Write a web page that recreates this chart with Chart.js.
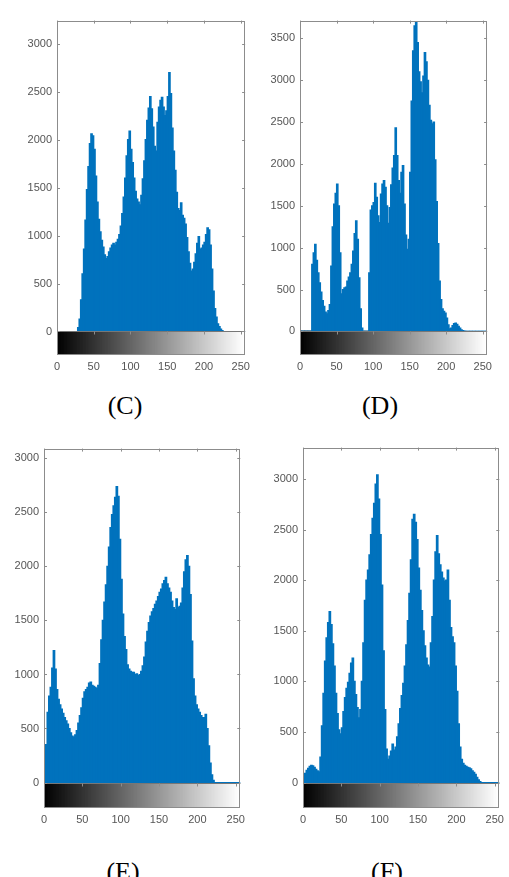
<!DOCTYPE html>
<html>
<head>
<meta charset="utf-8">
<script src="https://cdn.jsdelivr.net/npm/chart.js@4.4.1/dist/chart.umd.min.js"></script>
<style>
  html, body { margin: 0; padding: 0; background: #ffffff; }
  #page { position: relative; width: 509px; height: 877px; overflow: hidden; background: #fff; }
  canvas { position: absolute; }
  .cap { position: absolute; width: 100px; text-align: center; font-family: "Liberation Serif", "Times New Roman", serif; font-size: 26px; line-height: 26px; color: #000; }
</style>
</head>
<body>
<div id="page">
  <canvas id="cC"></canvas>
  <canvas id="cD"></canvas>
  <canvas id="cE"></canvas>
  <canvas id="cF"></canvas>
  <div class="cap" style="left:75px; top:393px;">(C)</div>
  <div class="cap" style="left:330px; top:393px;">(D)</div>
  <div class="cap" style="left:73px; top:859px;">(E)</div>
  <div class="cap" style="left:337px; top:859px;">(F)</div>
</div>
<script>
// ---- data: bin centres (each bin covers two grey levels) ----
const binCentres = Array.from({length: 128}, (_, i) => 2 * i + 1);
const xTickValues = [0, 50, 100, 150, 200, 250];

const histC = [
  0,0,0,0,0,0,0,0,
  0,0,0,0,0,0,40,130,
  330,600,860,1160,1480,1720,1960,2060,
  2040,1900,1620,1350,1170,1040,950,880,
  800,760,780,830,870,900,920,900,
  930,960,1010,1100,1230,1400,1600,1830,
  2000,2090,1900,1760,1600,1460,1380,1350,
  1320,1420,1590,1780,2000,2200,2330,2450,
  2320,2130,1930,1880,2180,2340,2410,2440,
  2340,2250,2300,2450,2700,2480,2120,1880,
  1680,1450,1280,1260,1340,1210,1180,1120,
  980,830,710,630,650,720,810,920,
  990,860,870,900,930,1010,1080,1060,
  900,650,420,240,150,80,50,25,
  10,0,0,0,0,0,0,0,
  0,0,0,0,0,0,0,0
];
const histD = [
  0,0,0,0,0,0,0,0,
  800,940,1040,850,700,580,470,370,
  300,230,210,250,320,780,1250,1520,
  1650,1760,1500,940,450,500,520,530,
  600,650,700,800,960,1170,1320,1100,
  640,270,40,0,0,0,0,700,
  1450,1500,1540,1770,1600,1380,1300,1640,
  1760,1800,1720,1500,1290,1480,1750,1950,
  2100,2430,2100,1800,1650,1900,1980,1520,
  1150,980,1100,1900,2750,3350,3650,3690,
  3450,3100,2980,2850,3050,3330,3220,3000,
  2700,2520,2480,2500,2050,1550,1050,600,
  380,270,240,220,160,80,30,40,
  70,95,100,85,60,40,20,10,
  5,0,0,0,0,0,0,0,
  0,0,0,0,0,0,0,0
];
const histE = [
  90,350,650,800,880,1060,1220,1050,
  860,770,720,680,640,600,570,540,
  500,460,430,420,440,480,550,620,
  690,780,840,860,880,920,930,900,
  890,880,870,900,1100,1320,1500,1670,
  1830,2000,2180,2360,2480,2560,2640,2740,
  2650,2250,1880,1560,1350,1230,1090,1050,
  1030,1020,1020,1000,1005,990,1000,1030,
  1080,1160,1300,1400,1480,1540,1580,1610,
  1650,1680,1720,1760,1790,1840,1870,1900,
  1840,1800,1760,1680,1620,1600,1700,1620,
  1630,1660,1800,1950,2060,2100,2000,1740,
  1310,960,800,720,680,650,620,600,
  600,630,500,340,180,70,20,0,
  0,0,0,0,0,0,0,0,
  0,0,0,0,0,0,0,0
];
const histF = [
  40,90,120,140,160,170,165,150,
  130,115,105,250,560,880,1200,1430,
  1580,1690,1560,1370,1150,880,680,520,
  480,540,700,840,930,990,1080,1180,
  1230,1000,870,740,640,720,1000,1380,
  1800,2000,2100,2250,2450,2610,2760,2950,
  3040,2800,2450,1950,1300,720,330,230,
  260,310,380,320,350,450,580,730,
  860,980,1150,1360,1600,1870,2200,2600,
  2650,2570,2400,2120,1900,1700,1500,1350,
  1230,1160,1140,1380,1640,2000,2280,2440,
  2260,2150,2080,2020,1990,2000,2100,1800,
  1530,1440,1380,1150,900,580,350,230,
  190,170,160,150,145,135,115,100,
  80,50,25,10,0,0,0,0,
  0,0,0,0,0,0,0,0
];
const yTicksC = [0, 500, 1000, 1500, 2000, 2500, 3000];
const yTicksD = [0, 500, 1000, 1500, 2000, 2500, 3000, 3500];
const yTicksE = [0, 500, 1000, 1500, 2000, 2500, 3000];
const yTicksF = [0, 500, 1000, 1500, 2000, 2500, 3000];

// ---- layout / style ----
const BAR_BLUE = '#0072BD';
const AXIS_GREY = '#8c8c8c';
const LABEL_GREY = '#555555';
const Y_AXIS_W = 45, X_AXIS_H = 22, PAD_T = 5, PAD_R = 5;

const boxPlugin = {
  id: 'matlabBox',
  afterDatasetsDraw(chart, args, opts) {
    const ctx = chart.ctx, a = chart.chartArea;
    const xs = chart.scales.x, ys = chart.scales.y;
    ctx.save();
    ctx.strokeStyle = '#777777';
    ctx.lineWidth = 1;
    const y0 = Math.round(ys.getPixelForValue(0)) + 0.5;
    ctx.beginPath();
    ctx.moveTo(a.left, y0); ctx.lineTo(a.right, y0);
    ctx.stroke();
    ctx.strokeStyle = AXIS_GREY;
    ctx.strokeRect(Math.round(a.left) + 0.5, Math.round(a.top) + 0.5,
                   Math.round(a.right - a.left) - 1, Math.round(a.bottom - a.top) - 1);
    ctx.beginPath();
    for (const v of opts.yTicks) {
      const py = Math.round(ys.getPixelForValue(v)) + 0.5;
      ctx.moveTo(a.left, py); ctx.lineTo(a.left + 3, py);
      ctx.moveTo(a.right, py); ctx.lineTo(a.right - 3, py);
    }
    for (const v of xTickValues) {
      const px = Math.round(xs.getPixelForValue(v)) + 0.5;
      ctx.moveTo(px, a.top); ctx.lineTo(px, a.top + 3);
      ctx.moveTo(px, y0); ctx.lineTo(px, y0 + 3);
    }
    ctx.stroke();
    ctx.restore();
  }
};

function makePanel(id, box, values, yTicks, yMin, yMax) {
  const cv = document.getElementById(id);
  const w = box.r - box.l + Y_AXIS_W + PAD_R;
  const h = box.b - box.t + PAD_T + X_AXIS_H;
  cv.width = w; cv.height = h;
  cv.style.width = w + 'px'; cv.style.height = h + 'px';
  cv.style.left = (box.l - Y_AXIS_W) + 'px';
  cv.style.top = (box.t - PAD_T) + 'px';

  const histData = binCentres.map((c, i) => ({x: c, y: values[i]}));
  const barData = binCentres.map(c => ({x: c, y: [yMin, 0]}));
  const barColours = binCentres.map(c => `rgb(${c},${c},${c})`);

  new Chart(cv, {
    type: 'bar',
    data: {
      datasets: [
        { label: 'histogram', data: histData, backgroundColor: BAR_BLUE, borderWidth: 0,
          barPercentage: 1, categoryPercentage: 1, grouped: false, inflateAmount: 0.6 },
        { label: 'grey levels', data: barData, backgroundColor: barColours, borderWidth: 0,
          barPercentage: 1, categoryPercentage: 1, grouped: false, inflateAmount: 0.6 }
      ]
    },
    options: {
      responsive: false,
      animation: false,
      events: [],
      layout: { padding: { top: PAD_T, right: PAD_R, left: 0, bottom: 0 } },
      plugins: { legend: { display: false }, tooltip: { enabled: false },
                 matlabBox: { yTicks: yTicks } },
      scales: {
        x: {
          type: 'linear', min: 0, max: 256, offset: false,
          grid: { display: false, drawTicks: false }, border: { display: false },
          afterBuildTicks: s => { s.ticks = xTickValues.map(v => ({value: v})); },
          afterFit: s => { s.height = X_AXIS_H; },
          ticks: { padding: 5, color: LABEL_GREY, maxRotation: 0, autoSkip: false,
                   callback: v => String(v),
                   font: { family: 'Liberation Sans, Arial, sans-serif', size: 11 } }
        },
        y: {
          type: 'linear', min: yMin, max: yMax,
          grid: { display: false, drawTicks: false }, border: { display: false },
          afterBuildTicks: s => { s.ticks = yTicks.map(v => ({value: v})); },
          afterFit: s => { s.width = Y_AXIS_W; },
          ticks: { padding: 5, color: LABEL_GREY, autoSkip: false,
                   callback: v => String(v),
                   font: { family: 'Liberation Sans, Arial, sans-serif', size: 11 } }
        }
      }
    },
    plugins: [boxPlugin]
  });
}

makePanel('cC', {l: 57, t: 14, r: 250, b: 355}, histC, yTicksC, -245, 3241);
makePanel('cD', {l: 300, t: 14, r: 492, b: 355}, histD, yTicksD, -281, 3712);
makePanel('cE', {l: 44, t: 442, r: 245, b: 808}, histE, yTicksE, -236, 3091);
makePanel('cF', {l: 303, t: 441, r: 504, b: 808}, histF, yTicksF, -252, 3310);
</script>
</body>
</html>
